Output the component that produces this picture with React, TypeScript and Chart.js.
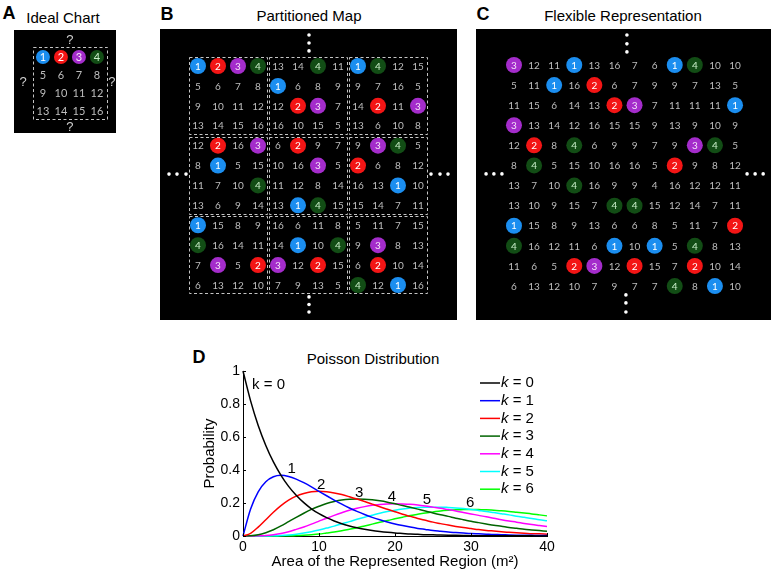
import React, { useEffect, useRef } from "react";
import { Chart, registerables } from "chart.js";
Chart.register(...registerables);

// ---------- Data: panels A-C (grid cells, "*" marks a coloured circle) ----------
const A_ROWS = ["*1 *2 *3 *4", "5 6 7 8", "9 10 11 12", "13 14 15 16"];

const B_ROWS = [
  "*1 *2 *3 *4 13 14 *4 11 *1 *4 12 15",
  "5 6 7 8 *1 6 8 9 9 7 16 5",
  "9 10 11 12 12 *2 *3 7 14 *2 11 *3",
  "13 14 15 16 16 10 15 5 13 6 10 8",
  "12 *2 16 *3 6 *2 9 7 9 *3 *4 5",
  "8 *1 5 15 10 16 *3 5 *2 6 8 12",
  "11 7 10 *4 11 12 8 14 16 13 *1 10",
  "13 6 9 14 13 *1 *4 15 15 14 7 11",
  "*1 15 8 9 16 6 11 8 5 11 7 15",
  "*4 16 14 11 14 *1 10 *4 9 *3 8 13",
  "7 *3 5 *2 *3 12 *2 15 6 *2 10 14",
  "6 13 12 10 7 9 13 5 *4 12 *1 16",
];

const C_ROWS = [
  "*3 12 11 *1 13 16 7 6 *1 *4 10 10",
  "5 11 *1 16 *2 6 7 9 9 7 13 5",
  "11 15 6 14 13 *2 *3 7 11 11 11 *1",
  "*3 13 14 12 16 15 15 9 13 9 10 9",
  "12 *2 8 *4 6 9 9 7 9 *3 *4 5",
  "8 *4 5 15 10 16 16 5 *2 9 8 12",
  "13 7 10 *4 16 9 9 4 16 12 12 11",
  "13 10 9 15 7 *4 *4 15 12 14 7 11",
  "*1 15 8 9 13 6 6 8 5 11 7 *2",
  "*4 16 12 11 6 *1 10 *1 5 *4 8 13",
  "11 6 5 *2 *3 12 *2 15 7 *2 10 14",
  "6 13 12 10 7 9 7 7 *4 8 *1 10",
];

// ---------- Data: panel D (Poisson curves) ----------
const AREA = [0,1,2,3,4,5,6,7,8,9,10,11,12,13,14,15,16,17,18,19,20,21,22,23,24,25,26,27,28,29,30,31,32,33,34,35,36,37,38,39,40];
const P0 = [1.000,0.819,0.670,0.549,0.449,0.368,0.301,0.247,0.202,0.165,0.135,0.111,0.091,0.074,0.061,0.050,0.041,0.033,0.027,0.022,0.018,0.015,0.012,0.010,0.008,0.007,0.006,0.005,0.004,0.003,0.002,0.002,0.002,0.001,0.001,0.001,0.001,0.001,0.001,0.000,0.000];
const P1 = [0,0.164,0.268,0.329,0.359,0.368,0.361,0.345,0.323,0.298,0.271,0.244,0.218,0.193,0.170,0.149,0.130,0.113,0.098,0.085,0.073,0.063,0.054,0.046,0.040,0.034,0.029,0.024,0.021,0.018,0.015,0.013,0.011,0.009,0.008,0.006,0.005,0.005,0.004,0.003,0.003];
const P2 = [0,0.016,0.054,0.099,0.144,0.184,0.217,0.242,0.258,0.268,0.271,0.268,0.261,0.251,0.238,0.224,0.209,0.193,0.177,0.162,0.147,0.132,0.119,0.106,0.095,0.084,0.075,0.066,0.058,0.051,0.045,0.039,0.034,0.030,0.026,0.022,0.019,0.017,0.014,0.013,0.011];
const P3 = [0,0.001,0.007,0.020,0.038,0.061,0.087,0.113,0.138,0.161,0.180,0.197,0.209,0.218,0.223,0.224,0.223,0.219,0.213,0.205,0.195,0.185,0.174,0.163,0.152,0.140,0.129,0.119,0.108,0.099,0.089,0.081,0.073,0.065,0.059,0.052,0.047,0.041,0.037,0.033,0.029];
const P4 = [0,0.000,0.001,0.003,0.008,0.015,0.026,0.040,0.055,0.072,0.090,0.108,0.125,0.141,0.156,0.168,0.178,0.186,0.191,0.194,0.195,0.194,0.192,0.188,0.182,0.175,0.168,0.160,0.152,0.143,0.134,0.125,0.116,0.108,0.099,0.091,0.084,0.076,0.069,0.063,0.057];
const P5 = [0,0.000,0.000,0.000,0.001,0.003,0.006,0.011,0.018,0.026,0.036,0.048,0.060,0.074,0.087,0.101,0.114,0.126,0.138,0.148,0.156,0.163,0.169,0.173,0.175,0.175,0.175,0.173,0.170,0.166,0.161,0.155,0.149,0.142,0.135,0.128,0.120,0.113,0.106,0.098,0.092];
const P6 = [0,0.000,0.000,0.000,0.000,0.001,0.001,0.003,0.005,0.008,0.012,0.018,0.024,0.032,0.041,0.050,0.061,0.072,0.083,0.094,0.104,0.114,0.124,0.132,0.140,0.146,0.152,0.156,0.159,0.160,0.161,0.160,0.159,0.156,0.153,0.149,0.144,0.139,0.134,0.128,0.122];
const SERIES = [P0, P1, P2, P3, P4, P5, P6];
const SERIES_K = ["0", "1", "2", "3", "4", "5", "6"];
const SERIES_COLORS = ["#000000", "#0000ff", "#ff0000", "#006400", "#ff00ff", "#00ffff", "#00ff00"];
const X_TICKS = [0, 10, 20, 30, 40];
const Y_TICKS = [0, 0.2, 0.4, 0.6, 0.8, 1];
// curve annotations (data coordinates)
const CURVE_LABEL_TEXT = ["k = 0", "1", "2", "3", "4", "5", "6"];
const CURVE_LABEL_X = [1.2, 6.4, 10.3, 15.3, 19.6, 24.2, 29.9];
const CURVE_LABEL_Y = [0.915, 0.405, 0.31, 0.26, 0.24, 0.22, 0.2];

const CIRCLE_COLORS: Record<string, string> = { "1": "#1b8ef0", "2": "#f31515", "3": "#a42ccb", "4": "#124d15" };
const CIRCLE_TEXT: Record<string, string> = { "1": "#ffffff", "2": "#ffffff", "3": "#f4e4f8", "4": "#c9efc9" };

type Cell = { x: number; y: number; v: string; c: boolean };
function parseGrid(rows: string[]): Cell[] {
  const out: Cell[] = [];
  rows.forEach((row, r) =>
    row.trim().split(/\s+/).forEach((tok, c) => {
      const circ = tok.startsWith("*");
      out.push({ x: c + 1, y: r + 1, v: circ ? tok.slice(1) : tok, c: circ });
    })
  );
  return out;
}

type Pt = { x: number; y: number };
interface PanelSpec {
  left: number; top: number; width: number; height: number;
  xMin: number; xMax: number; yMin: number; yMax: number;
  radius: number; fontSize: number;
  boxes: number[][];
  dots: Pt[];
  qmarks?: Pt[];
}

function blockBoxes(): number[][] {
  const b: number[][] = [];
  for (let i = 0; i < 3; i++) for (let j = 0; j < 3; j++) b.push([4 * i + 0.55, 4 * i + 4.45, 4 * j + 0.55, 4 * j + 4.42]);
  return b;
}

const A_SPEC: PanelSpec = {
  left: 14, top: 30, width: 102, height: 103,
  xMin: -0.61, xMax: 5.06, yMin: -0.5, yMax: 5.22,
  radius: 7, fontSize: 11,
  boxes: [[0.44, 4.56, 0.44, 4.44]],
  dots: [],
  qmarks: [{ x: 2.5, y: 0.06 }, { x: -0.11, y: 2.39 }, { x: 4.83, y: 2.39 }, { x: 2.5, y: 4.92 }],
};

const B_SPEC: PanelSpec = {
  left: 160, top: 29, width: 297, height: 291,
  xMin: -0.9, xMax: 13.95, yMin: -0.86, yMax: 13.76,
  radius: 8, fontSize: 10,
  boxes: blockBoxes(),
  dots: [
    { x: 6.55, y: -0.56 }, { x: 6.55, y: -0.16 }, { x: 6.55, y: 0.24 },
    { x: -0.45, y: 6.43 }, { x: -0.05, y: 6.43 }, { x: 0.4, y: 6.43 },
    { x: 12.65, y: 6.43 }, { x: 13.1, y: 6.43 }, { x: 13.5, y: 6.43 },
    { x: 6.55, y: 12.6 }, { x: 6.55, y: 12.98 }, { x: 6.55, y: 13.36 },
  ],
};

const C_SPEC: PanelSpec = {
  left: 476, top: 29, width: 295, height: 291,
  xMin: -0.89, xMax: 13.79, yMin: -0.79, yMax: 13.69,
  radius: 8, fontSize: 10,
  boxes: [],
  dots: [
    { x: 6.62, y: -0.49 }, { x: 6.62, y: -0.05 }, { x: 6.62, y: 0.35 },
    { x: -0.39, y: 6.42 }, { x: 0, y: 6.42 }, { x: 0.4, y: 6.42 },
    { x: 12.6, y: 6.42 }, { x: 13.0, y: 6.42 }, { x: 13.4, y: 6.42 },
    { x: 6.57, y: 12.44 }, { x: 6.57, y: 12.84 }, { x: 6.57, y: 13.29 },
  ],
};

function GridPanel({ rows, spec }: { rows: string[]; spec: PanelSpec }) {
  const ref = useRef<HTMLCanvasElement | null>(null);
  useEffect(() => {
    if (!ref.current) return;
    const cells = parseGrid(rows);
    const circled = cells.filter((c) => c.c);
    const bg = {
      id: "bg",
      beforeDraw(chart: any) {
        const ctx = chart.ctx;
        ctx.save();
        ctx.fillStyle = "#000";
        ctx.fillRect(0, 0, chart.width, chart.height);
        ctx.restore();
      },
      beforeDatasetsDraw(chart: any) {
        const { ctx, scales } = chart;
        ctx.save();
        ctx.strokeStyle = "#c4c4c4";
        ctx.lineWidth = 1;
        ctx.setLineDash([3, 2.5]);
        spec.boxes.forEach((b) => {
          const x0 = Math.round(scales.x.getPixelForValue(b[0])) + 0.5;
          const x1 = Math.round(scales.x.getPixelForValue(b[1])) + 0.5;
          const y0 = Math.round(scales.y.getPixelForValue(b[2])) + 0.5;
          const y1 = Math.round(scales.y.getPixelForValue(b[3])) + 0.5;
          ctx.strokeRect(x0, y0, x1 - x0, y1 - y0);
        });
        ctx.restore();
      },
      afterDatasetsDraw(chart: any) {
        const { ctx, scales } = chart;
        ctx.save();
        ctx.textAlign = "center";
        ctx.textBaseline = "middle";
        ctx.font = `${spec.fontSize}px Lato, "Open Sans", sans-serif`;
        cells.forEach((c) => {
          ctx.fillStyle = c.c ? CIRCLE_TEXT[c.v] : "#bdbdbd";
          ctx.fillText(c.v, scales.x.getPixelForValue(c.x), scales.y.getPixelForValue(c.y) + 0.5);
        });
        if (spec.qmarks) {
          ctx.font = `13px "Liberation Sans", sans-serif`;
          ctx.fillStyle = "#cfcfcf";
          spec.qmarks.forEach((q) => ctx.fillText("?", scales.x.getPixelForValue(q.x), scales.y.getPixelForValue(q.y)));
        }
        ctx.restore();
      },
    };
    const chart = new Chart(ref.current, {
      type: "scatter",
      data: {
        datasets: [
          {
            data: circled.map((c) => ({ x: c.x, y: c.y })),
            pointRadius: spec.radius,
            pointBackgroundColor: circled.map((c) => CIRCLE_COLORS[c.v]),
            pointBorderWidth: 0,
            pointBorderColor: "rgba(0,0,0,0)",
            clip: false,
          } as any,
          {
            data: spec.dots,
            pointRadius: 1.8,
            pointBackgroundColor: "#ffffff",
            pointBorderWidth: 0,
            pointBorderColor: "rgba(0,0,0,0)",
            clip: false,
          } as any,
        ],
      },
      options: {
        responsive: false,
        animation: false,
        devicePixelRatio: 1,
        events: [],
        layout: { padding: 0, autoPadding: false },
        plugins: { legend: { display: false }, tooltip: { enabled: false } },
        scales: {
          x: { type: "linear", display: false, min: spec.xMin, max: spec.xMax },
          y: { type: "linear", display: false, min: spec.yMin, max: spec.yMax, reverse: true },
        },
      } as any,
      plugins: [bg],
    });
    return () => chart.destroy();
  }, []);
  return (
    <canvas
      ref={ref}
      width={spec.width}
      height={spec.height}
      style={{ position: "absolute", left: spec.left, top: spec.top, width: spec.width, height: spec.height }}
    />
  );
}

const D_LEFT = 150, D_TOP = 340, D_W = 420, D_H = 232;

function PoissonPanel() {
  const ref = useRef<HTMLCanvasElement | null>(null);
  useEffect(() => {
    if (!ref.current) return;
    const font = { family: '"Liberation Sans", Arial, sans-serif', size: 14 };
    const decor = {
      id: "decor",
      afterDraw(chart: any) {
        const { ctx, chartArea, scales } = chart;
        const xs = scales.x, ys = scales.y;
        ctx.save();
        ctx.strokeStyle = "#000";
        ctx.lineWidth = 1;
        ctx.beginPath();
        X_TICKS.forEach((v) => {
          const px = Math.round(xs.getPixelForValue(v)) + 0.5;
          ctx.moveTo(px, chartArea.bottom);
          ctx.lineTo(px, chartArea.bottom - 3);
        });
        Y_TICKS.forEach((v) => {
          const py = Math.round(ys.getPixelForValue(v)) + 0.5;
          ctx.moveTo(chartArea.left, py);
          ctx.lineTo(chartArea.left + 3, py);
        });
        ctx.stroke();
        // curve labels
        ctx.fillStyle = "#000";
        ctx.font = '15px "Liberation Sans", Arial, sans-serif';
        ctx.textBaseline = "middle";
        CURVE_LABEL_TEXT.forEach((t, i) => {
          ctx.textAlign = i === 0 ? "left" : "center";
          ctx.fillText(t, xs.getPixelForValue(CURVE_LABEL_X[i]), ys.getPixelForValue(CURVE_LABEL_Y[i]));
        });
        // legend
        const lx = chartArea.left + 237;
        SERIES_K.forEach((k, i) => {
          const y = chartArea.top + 12 + i * 17.7;
          ctx.strokeStyle = SERIES_COLORS[i];
          ctx.lineWidth = 1.5;
          ctx.beginPath();
          ctx.moveTo(lx, y);
          ctx.lineTo(lx + 20, y);
          ctx.stroke();
          ctx.textAlign = "left";
          ctx.font = 'italic 15px "Liberation Sans", Arial, sans-serif';
          ctx.fillText("k", lx + 21, y);
          const w = ctx.measureText("k").width;
          ctx.font = '15px "Liberation Sans", Arial, sans-serif';
          ctx.fillText(" = " + k, lx + 21 + w, y);
        });
        ctx.restore();
      },
    };
    const fmt = (v: any) => String(Math.round(Number(v) * 10) / 10);
    const chart = new Chart(ref.current, {
      type: "line",
      data: {
        datasets: SERIES.map((s, i) => ({
          label: "k = " + SERIES_K[i],
          data: AREA.map((x, j) => ({ x, y: s[j] })),
          borderColor: SERIES_COLORS[i],
          borderWidth: 1.5,
          pointRadius: 0,
          fill: false,
          cubicInterpolationMode: "monotone" as const,
          clip: 4,
        })),
      },
      options: {
        responsive: false,
        animation: false,
        devicePixelRatio: 1,
        events: [],
        layout: { padding: { top: 31, right: 23, left: 0, bottom: 0 } },
        plugins: { legend: { display: false }, tooltip: { enabled: false } },
        scales: {
          x: {
            type: "linear",
            min: 0,
            max: 40,
            afterFit: (s: any) => { s.height = 36; },
            ticks: { stepSize: 10, font, color: "#000", padding: 3, maxRotation: 0, callback: fmt },
            grid: { drawOnChartArea: false, drawTicks: false },
            border: { color: "#000", width: 1 },
            title: {
              display: true,
              text: "Area of the Represented Region (m²)",
              font: { ...font, size: 15 },
              color: "#000",
              padding: { top: 0, bottom: 1 },
            },
          },
          y: {
            type: "linear",
            min: 0,
            max: 1,
            afterFit: (s: any) => { s.width = 93; },
            ticks: { stepSize: 0.2, font, color: "#000", padding: 3, callback: fmt },
            grid: { drawOnChartArea: false, drawTicks: false },
            border: { color: "#000", width: 1 },
            title: {
              display: true,
              text: "Probability",
              font: { ...font, size: 15 },
              color: "#000",
              padding: { top: 51, bottom: 0 },
            },
          },
        },
      },
      plugins: [decor],
    });
    return () => chart.destroy();
  }, []);
  return (
    <canvas
      ref={ref}
      width={D_W}
      height={D_H}
      style={{ position: "absolute", left: D_LEFT, top: D_TOP, width: D_W, height: D_H }}
    />
  );
}

function Label({ x, y, text, bold, size }: { x: number; y: number; text: string; bold?: boolean; size: number }) {
  return (
    <div
      style={{
        position: "absolute",
        left: x,
        top: y,
        transform: "translate(-50%, -50%)",
        whiteSpace: "nowrap",
        fontFamily: '"Liberation Sans", Arial, sans-serif',
        fontWeight: bold ? 700 : 400,
        fontSize: size,
        lineHeight: `${size}px`,
        color: "#000",
      }}
    >
      {text}
    </div>
  );
}

export default function App() {
  return (
    <div style={{ position: "absolute", left: 0, top: 0, width: 772, height: 572, background: "#fff", overflow: "hidden" }}>
      <Label x={9} y={13} text="A" bold size={18} />
      <Label x={63} y={17} text="Ideal Chart" size={15} />
      <Label x={167} y={14} text="B" bold size={18} />
      <Label x={309} y={15} text="Partitioned Map" size={15} />
      <Label x={483} y={14} text="C" bold size={18} />
      <Label x={623} y={15} text="Flexible Representation" size={15} />
      <Label x={199} y={357} text="D" bold size={18} />
      <Label x={373} y={358} text="Poisson Distribution" size={15} />
      <GridPanel rows={A_ROWS} spec={A_SPEC} />
      <GridPanel rows={B_ROWS} spec={B_SPEC} />
      <GridPanel rows={C_ROWS} spec={C_SPEC} />
      <PoissonPanel />
    </div>
  );
}
